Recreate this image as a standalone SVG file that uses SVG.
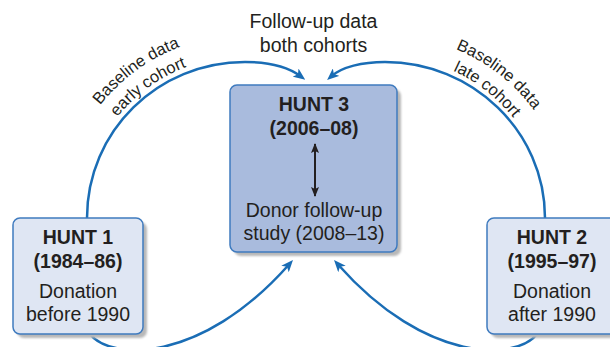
<svg xmlns="http://www.w3.org/2000/svg" width="610" height="347" viewBox="0 0 610 347">
  <style>
    .t { font-family: "Liberation Sans", Arial, sans-serif; font-size: 19.5px; fill: #231f20; text-anchor: middle; }
    .b { font-weight: bold; }
    .a { font-family: "Liberation Sans", Arial, sans-serif; font-size: 16.5px; fill: #231f20; text-anchor: middle; }
    .box { stroke: #3f7bbf; stroke-width: 1.5; }
    .light { fill: #dfe6f3; }
    .dark { fill: #a9bbdd; }
    .shadow { fill: #b8b8b8; filter: url(#soft); }
    .conn { fill: none; stroke: #1a6db5; stroke-width: 2.5; }
  </style>
  <defs>
    <filter id="soft" x="-10%" y="-10%" width="120%" height="120%">
      <feGaussianBlur stdDeviation="1.2"/>
    </filter>
    <marker id="ah" viewBox="0 0 12 10" refX="6" refY="5" markerWidth="12" markerHeight="10" markerUnits="userSpaceOnUse" orient="auto">
      <path d="M12,5 L0,0 L3,5 L0,10 Z" fill="#1a6db5"/>
    </marker>
    <marker id="bh" viewBox="0 0 10 8" refX="9" refY="4" markerWidth="10" markerHeight="8" markerUnits="userSpaceOnUse" orient="auto-start-reverse">
      <path d="M10,4 L0,0 L2,4 L0,8 Z" fill="#231f20"/>
    </marker>
    <path id="tl1" d="M 65.5 176.2 A 185 185 0 0 1 257.9 35.5"/>
    <path id="tl2" d="M 85.9 180.3 A 164 164 0 0 1 256.4 56.4"/>
    <path id="tr1" d="M 378.5 35.1 A 185 185 0 0 1 566 181.5"/>
    <path id="tr2" d="M 379.3 56.1 A 164 164 0 0 1 545.4 185.9"/>
  </defs>

  <g id="connectors">
    <path class="conn" d="M 87 218 C 87 131, 158 62, 245 62 C 268 62, 288 67, 300.4 76.1" marker-end="url(#ah)"/>
    <path class="conn" d="M 545 218 C 545 131, 472 62, 385 62 C 362 62, 342 67, 331.6 76.1" marker-end="url(#ah)"/>
    <path class="conn" d="M 90 334 C 110 360, 200 365, 289 264.5" marker-end="url(#ah)"/>
    <path class="conn" d="M 537 334 C 517 360, 427 365, 338 264.5" marker-end="url(#ah)"/>
    <text class="a"><textPath href="#tl1" startOffset="50%">Baseline data</textPath></text>
    <text class="a"><textPath href="#tl2" startOffset="50%">early cohort</textPath></text>
    <text class="a"><textPath href="#tr1" startOffset="50%">Baseline data</textPath></text>
    <text class="a"><textPath href="#tr2" startOffset="50%">late cohort</textPath></text>
    <text class="t" x="313.5" y="28">Follow-up data</text>
    <text class="t" x="313.5" y="52">both cohorts</text>
  </g>

  <g id="hunt3">
    <rect class="shadow" x="234" y="89" width="167" height="167" rx="7"/>
    <rect class="box dark" x="230" y="85" width="167" height="167" rx="7"/>
    <text class="t b" x="314" y="110.5">HUNT 3</text>
    <text class="t b" x="314" y="135">(2006–08)</text>
    <line x1="315" y1="144" x2="315" y2="196" stroke="#231f20" stroke-width="2" marker-start="url(#bh)" marker-end="url(#bh)"/>
    <text class="t" x="314" y="217">Donor follow-up</text>
    <text class="t" x="314" y="240">study (2008–13)</text>
  </g>

  <g id="hunt1">
    <rect class="shadow" x="17" y="222" width="130" height="116" rx="7"/>
    <rect class="box light" x="13" y="218" width="130" height="116" rx="7"/>
    <text class="t b" x="78" y="244">HUNT 1</text>
    <text class="t b" x="78" y="267.5">(1984–86)</text>
    <text class="t" x="78" y="297.5">Donation</text>
    <text class="t" x="78" y="321">before 1990</text>
  </g>

  <g id="hunt2">
    <rect class="shadow" x="491" y="222" width="130" height="116" rx="7"/>
    <rect class="box light" x="487" y="218" width="130" height="116" rx="7"/>
    <text class="t b" x="552" y="244">HUNT 2</text>
    <text class="t b" x="552" y="267.5">(1995–97)</text>
    <text class="t" x="552" y="297.5">Donation</text>
    <text class="t" x="552" y="321">after 1990</text>
  </g>
</svg>
